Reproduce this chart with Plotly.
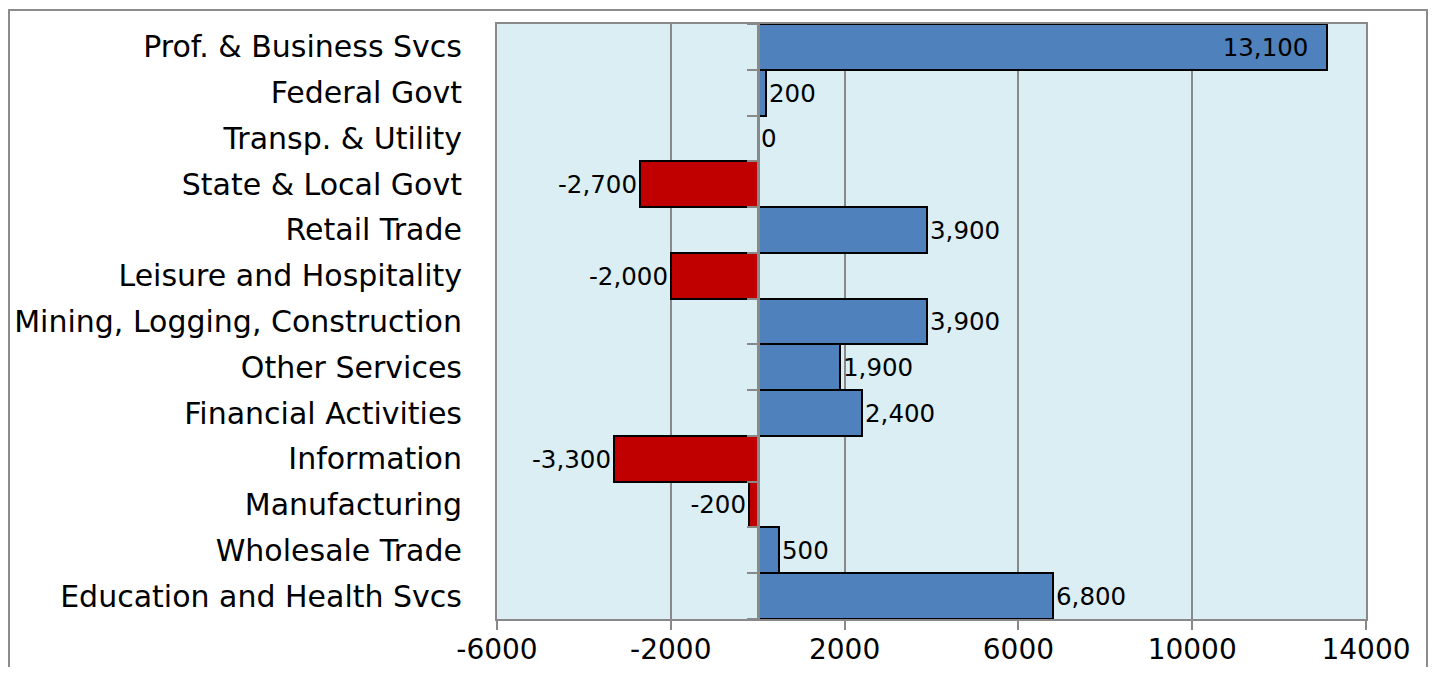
import plotly.graph_objects as go

categories = [
    "Prof. & Business Svcs", "Federal Govt", "Transp. & Utility", "State & Local Govt",
    "Retail Trade", "Leisure and Hospitality", "Mining, Logging, Construction",
    "Other Services", "Financial Activities", "Information", "Manufacturing",
    "Wholesale Trade", "Education and Health Svcs",
]
values = [13100, 200, 0, -2700, 3900, -2000, 3900, 1900, 2400, -3300, -200, 500, 6800]
x_ticks = [-6000, -2000, 2000, 6000, 10000, 14000]

BLUE = "#4F81BD"
RED = "#C00000"
GRAY = "#898989"
VW, VH = 1436, 675          # browser window
OFF = 8                     # default page body margin
W, H = VW - 2 * OFF, VH - 2 * OFF   # figure fits without scrollbars
# desired on-screen plot box
PL, PR, PT, PB = 497, 1366, 24, 619
ML, MT = PL - OFF, PT - OFF
MR = W - (PR - OFF)
MB = H - (PB - OFF)
FONT = "DejaVu Sans"

colors = [BLUE if v >= 0 else RED for v in values]
xmin, xmax = min(x_ticks), max(x_ticks)
positions = ["inside" if v > 0.8 * xmax else "outside" for v in values]
texts = [f"{v:,}" + ("\u00a0\u00a0" if p == "inside" else "") for v, p in zip(values, positions)]

fig = go.Figure()
fig.add_trace(go.Bar(
    y=categories, x=values, orientation="h",
    marker=dict(color=colors, line=dict(color="black", width=2)),
    text=texts, textposition=positions, insidetextanchor="end",
    textfont=dict(family=FONT, size=24.5, color="black"),
    insidetextfont=dict(family=FONT, size=24.5, color="black"),
    outsidetextfont=dict(family=FONT, size=24.5, color="black"),
    cliponaxis=False, width=1.0,
))

n = len(categories)
zero_frac = (0 - xmin) / (xmax - xmin)
fig.add_trace(go.Scatter(x=[None], y=[None], yaxis="y2", showlegend=False))

plot_w = PR - PL
plot_h = PB - PT
fig_pb = MT + plot_h
fig.add_shape(type="rect", xref="paper", yref="paper",
              x0=(1 - ML) / plot_w, x1=(W - 1 - ML) / plot_w,
              y0=(fig_pb - (H + 30)) / plot_h, y1=(fig_pb - 2) / plot_h,
              line=dict(color="#8C8C8C", width=2), fillcolor="rgba(0,0,0,0)", layer="below")

fig.update_layout(
    width=W, height=H,
    margin=dict(l=ML, r=MR, t=MT, b=MB, autoexpand=False),
    paper_bgcolor="white", plot_bgcolor="#DAEEF3",
    showlegend=False, bargap=0,
    font=dict(family=FONT, color="black"),
    xaxis=dict(
        range=[xmin, xmax], tickvals=x_ticks, ticktext=[str(t) for t in x_ticks],
        showgrid=True, gridcolor=GRAY, gridwidth=2,
        zeroline=False,
        showline=True, linecolor=GRAY, linewidth=2, mirror=True,
        ticks="outside", ticklen=9, tickwidth=2, tickcolor=GRAY,
        tickfont=dict(family=FONT, size=28, color="black"),
        ticklabelstandoff=-5,
        automargin=False,
    ),
    yaxis=dict(
        categoryorder="array", categoryarray=categories, autorange="reversed",
        showline=True, linecolor=GRAY, linewidth=2, mirror=True,
        ticks="", showgrid=False, ticklabelstandoff=27,
        tickfont=dict(family=FONT, size=30, color="black"),
        automargin=False,
    ),
    yaxis2=dict(
        overlaying="y", anchor="free", position=zero_frac, side="left",
        range=[n - 0.5, -0.5], tickvals=[i - 0.5 for i in range(n + 1)],
        showticklabels=False, ticks="outside", ticklen=10, tickwidth=2,
        tickcolor=GRAY, showgrid=False, zeroline=False,
        showline=True, linecolor=GRAY, linewidth=2.5, layer="above traces",
        automargin=False,
    ),
)

fig.write_html("out.html")
